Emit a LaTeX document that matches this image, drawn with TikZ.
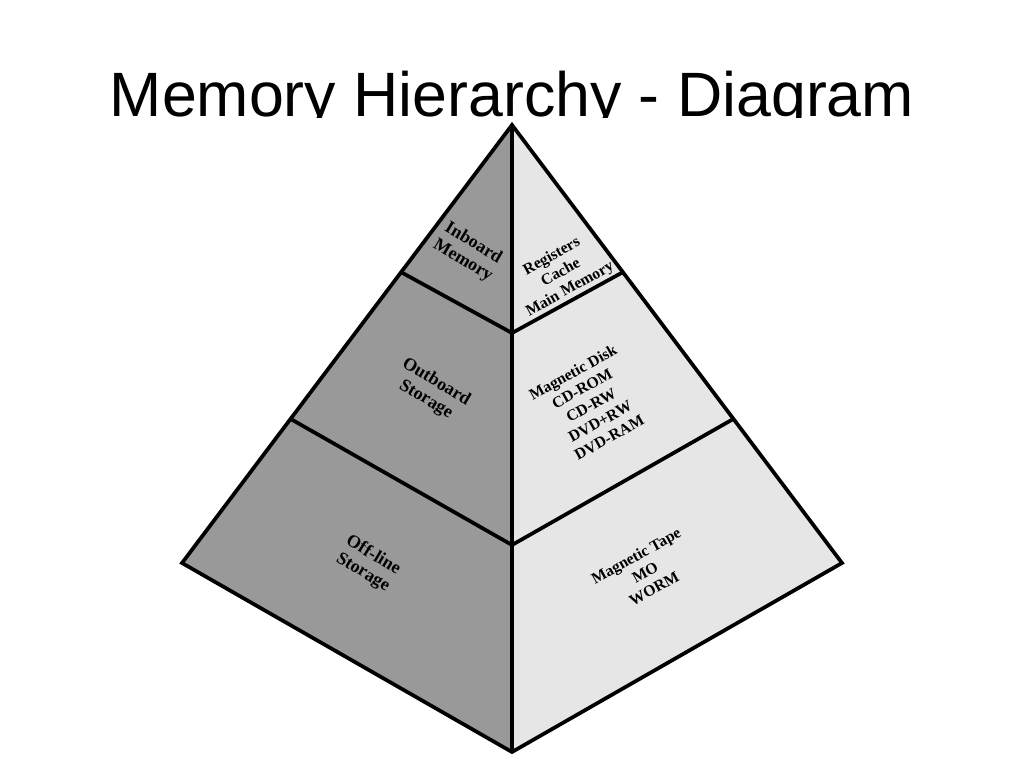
\documentclass[tikz,border=0pt]{standalone}
\usepackage{fontspec}
\setmainfont{Liberation Serif}
\newfontfamily\titlefont{Liberation Sans}
\usepackage{tikz}
\usetikzlibrary{calc}
\definecolor{cDark}{HTML}{999999}
\definecolor{cLight}{HTML}{E6E6E6}
\tikzset{
  face/.style  ={draw=black, line width=2.8pt, line join=miter},
  band/.style  ={draw=black, line width=2.8pt},
  lvl/.style   ={align=center, font=\bfseries\fontsize{13.5}{15}\selectfont, inner sep=1pt},
  dev/.style   ={align=center, font=\bfseries\fontsize{11.8}{14}\selectfont, inner sep=1pt},
  ttl/.style   ={font=\titlefont\fontsize{47}{52}\selectfont, anchor=base, inner sep=0pt},
}

\begin{document}
\begin{tikzpicture}[x=0.75pt, y=-0.75pt]
  \useasboundingbox (0,0) rectangle (1024,768);
  % title, cut off at its base line as in the slide
  \begin{scope}
    \clip (0,0) rectangle (1024,117);
    \node[ttl] (title) at (512,116) {Memory Hierarchy - Diagram};
  \end{scope}
  % corners of the pyramid
  \coordinate (top) at (512,125);
  \coordinate (lft) at (182,563);
  \coordinate (rgt) at (842,563);
  \coordinate (bot) at (512,752);
  \coordinate (l1) at ($(top)!0.336!(lft)$);
  \coordinate (l2) at ($(top)!0.671!(lft)$);
  \coordinate (r1) at ($(top)!0.336!(rgt)$);
  \coordinate (r2) at ($(top)!0.671!(rgt)$);
  \coordinate (m1) at (512,333);
  \coordinate (m2) at (512,545);
  \fill[cDark] (top) -- (lft) -- (bot) -- cycle;
  \fill[cLight] (top) -- (rgt) -- (bot) -- cycle;
  \draw[band] (l1) -- (m1) -- (r1);
  \draw[band] (l2) -- (m2) -- (r2);
  \draw[band] (top) -- (bot);
  \draw[face] (top) -- (lft) -- (bot) -- (rgt) -- cycle;
  % levels
  \node[lvl, rotate=-31] (inb) at (468,252) {Inboard\\Memory};
  \node[lvl, rotate=-31] (outb) at (431,391) {Outboard\\Storage};
  \node[lvl, rotate=-31] (offl) at (368,564) {Off-line\\Storage};
  % devices
  \node[dev, rotate=29] (reg) at (561,273) {Registers\\Cache\\Main Memory};
  \node[dev, rotate=29] (mdisk) at (591,405) {Magnetic Disk\\CD-ROM\\CD-RW\\DVD+RW\\DVD-RAM};
  \node[dev, rotate=29] (mtape) at (645,572) {Magnetic Tape\\MO\\WORM};
\end{tikzpicture}
\end{document}
